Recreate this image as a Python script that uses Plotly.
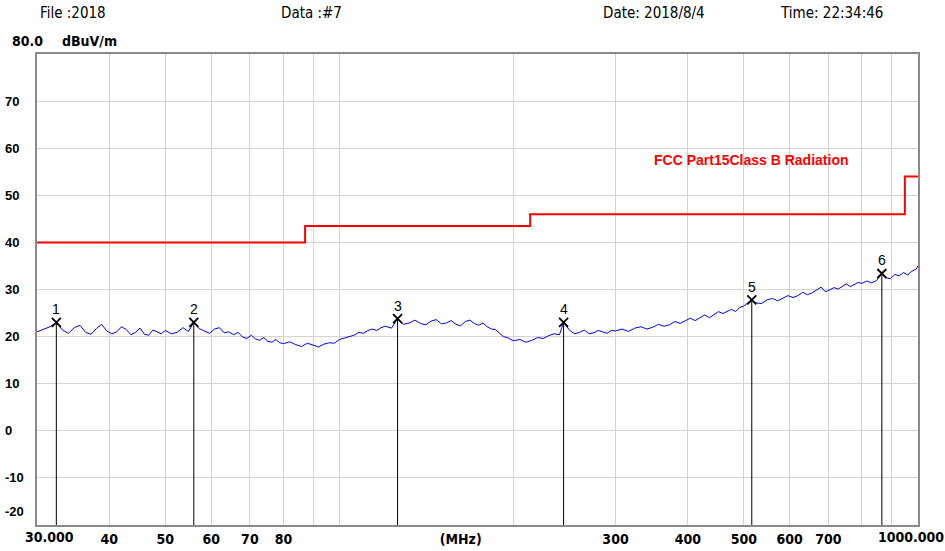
import math
import plotly.graph_objects as go

# ---------------- data ----------------
freq_mhz = [
    30.0, 30.8, 31.6, 32.4, 33.2, 34.0, 34.8, 35.6, 36.4, 37.2, 38.0, 38.8, 39.6, 40.4, 41.2, 42.0, 42.8, 43.6, 44.4, 45.2, 46.0, 46.8, 47.6, 48.4, 49.2,
    50.0, 51.2, 52.4, 53.6, 54.8, 56.0, 57.2, 58.4, 59.6, 60.8, 62.0, 63.2, 64.4, 65.6, 66.8, 68.0, 69.2, 70.4, 71.6, 72.8, 74.0, 75.2, 76.4, 77.6, 78.8,
    80, 82, 84, 86, 88, 90, 92, 94, 96, 98, 100, 102, 104, 106, 108, 110, 112, 114, 116, 118,
    120, 123, 126, 129, 132, 135, 138, 141, 144, 147, 150, 153, 156, 159, 162, 165, 168, 171, 174, 177, 180, 183, 186, 189, 192, 195, 198,
    200, 205, 210, 215, 220, 225, 230, 235, 240, 244, 250, 255, 260, 265, 270, 275, 280, 285, 290, 295,
    300, 308, 316, 324, 332, 340, 348, 356, 364, 372, 380, 388, 396, 404, 412, 420, 428, 436, 444, 452, 460, 468, 476, 484, 492,
    500, 516, 524, 536, 548, 560, 572, 584, 596, 608, 620, 632, 644, 656, 668, 680, 692, 704, 716, 728, 740, 752, 764, 776, 788,
    800, 816, 832, 848, 866, 880, 896, 912, 928, 944, 960, 976, 992, 1000,
]
level_dbuv = [
    21.0, 21.6, 22.1, 23.0, 21.4, 20.7, 21.9, 22.4, 20.9, 20.5, 21.7, 22.6, 21.2, 20.6, 21.0, 22.1, 21.5, 20.4, 20.9, 21.8, 20.5, 20.3, 21.4, 21.0, 20.6,
    21.3, 20.6, 20.9, 21.9, 21.1, 23.0, 21.7, 21.2, 20.7, 21.6, 21.9, 20.8, 21.0, 20.4, 20.9, 19.9, 19.6, 20.3, 19.5, 19.2, 19.8, 19.0, 18.8, 19.4, 18.7,
    18.5, 18.9, 18.3, 17.9, 18.6, 18.2, 17.8, 18.4, 18.7, 18.6, 19.4, 19.7, 20.0, 20.3, 20.9, 20.7, 21.3, 21.6, 21.3, 21.9,
    22.2, 21.8, 23.8, 22.6, 22.9, 23.5, 22.8, 22.5, 23.3, 23.6, 22.7, 22.9, 23.4, 22.6, 22.3, 23.2, 23.5, 22.8, 22.4, 22.9, 22.1, 21.6, 21.5, 20.7, 20.0, 19.8, 19.3,
    19.1, 19.4, 18.8, 19.2, 19.8, 19.6, 20.2, 20.6, 20.4, 23.0, 21.3, 20.6, 20.9, 21.4, 20.6, 20.8, 21.3, 21.0, 20.7, 21.3,
    21.2, 21.6, 21.1, 21.8, 22.1, 21.6, 22.0, 22.6, 22.2, 22.5, 23.2, 22.8, 23.3, 23.9, 23.4, 24.1, 24.6, 24.0, 24.6, 25.3, 24.9, 25.4, 25.8, 25.3, 26.2,
    26.5, 27.8, 27.2, 27.0, 27.8, 28.1, 27.6, 28.2, 28.7, 28.3, 28.7, 29.4, 28.9, 29.3, 29.9, 30.5, 29.5, 29.9, 30.4, 30.1, 30.7, 31.2, 30.6, 31.0, 31.5,
    31.3, 31.8, 31.4, 31.9, 33.4, 32.5, 32.3, 33.2, 32.9, 33.6, 33.1, 33.9, 34.3, 35.0,
]

limit_freq = [30, 87.2, 213.6, 949, 1000]
limit_level = [40, 43.5, 46, 54, 54]
limit_name = "FCC Part15Class B Radiation"

marker_freq = [32.4, 56.0, 126.0, 244.0, 516.0, 866.0]
marker_level = [23.0, 23.0, 23.8, 23.0, 27.8, 33.4]
marker_label = ["1", "2", "3", "4", "5", "6"]

y_tick_vals = [70, 60, 50, 40, 30, 20, 10, 0, -10, -20]
x_tick_vals = [40, 50, 60, 70, 80, 162, 300, 400, 500, 600, 700]
x_tick_text = ["40", "50", "60", "70", "80", "(MHz)", "300", "400", "500", "600", "700"]
x_grid_vals = [40, 50, 60, 70, 80, 90, 100, 200, 300, 400, 500, 600, 700, 800, 900]

header_texts = ["File :2018", "Data :#7", "Date: 2018/8/4", "Time: 22:34:46"]
header_x = [38, 279, 601, 778]

Y_MIN, Y_MAX = -20, 80
F_MIN, F_MAX = 30, 1000

NARROW = "Liberation Sans Narrow, Arial Narrow, DejaVu Sans Condensed, sans-serif"
ARIAL = "Liberation Sans, Arial, sans-serif"


def nfont(size, bold=False):
    d = dict(family=NARROW, size=size, color="#000000")
    if bold:
        d["weight"] = "bold"
    return d


fig = go.Figure()

fig.add_trace(go.Scatter(x=freq_mhz, y=level_dbuv, mode="lines",
                         line=dict(color="#0000ff", width=1), hoverinfo="skip"))

fig.add_trace(go.Scatter(x=limit_freq, y=limit_level, mode="lines",
                         line=dict(color="#ff0000", width=2, shape="hv"), hoverinfo="skip"))

vx, vy = [], []
for f, v in zip(marker_freq, marker_level):
    vx += [f, f, None]
    vy += [Y_MIN, v, None]
fig.add_trace(go.Scatter(x=vx, y=vy, mode="lines",
                         line=dict(color="#000000", width=1), hoverinfo="skip"))

fig.add_trace(go.Scatter(x=marker_freq, y=marker_level, mode="markers",
                         marker=dict(symbol="x-thin", size=9, line=dict(color="#000000", width=1.8)),
                         hoverinfo="skip"))

annotations = []
for f, v, t in zip(marker_freq, marker_level, marker_label):
    annotations.append(dict(x=math.log10(f), y=v, xref="x", yref="y", text=t, showarrow=False,
                            yshift=13, font=dict(family=ARIAL, size=14, color="#000000")))

annotations.append(dict(x=math.log10(347), y=57.5, xref="x", yref="y", xanchor="left", text=limit_name,
                        showarrow=False,
                        font=dict(family=ARIAL, size=14, color="#ff0000", weight="bold")))

for v in y_tick_vals:
    annotations.append(dict(x=0, y=v, xref="paper", yref="y", xanchor="left", text=str(v),
                            showarrow=False, xshift=-34, yshift=(14 if v == Y_MIN else 0),
                            font=dict(family=ARIAL, size=13, color="#000000", weight="bold")))
annotations.append(dict(x=0, y=1, xref="paper", yref="paper", xanchor="left", yanchor="middle",
                        text="80.0", showarrow=False, xshift=-27, yshift=13, font=nfont(14, True)))
annotations.append(dict(x=0, y=1, xref="paper", yref="paper", xanchor="left", yanchor="middle",
                        text="dBuV/m", showarrow=False, xshift=23, yshift=13, font=nfont(14, True)))

annotations.append(dict(x=math.log10(F_MIN), y=0, xref="x", yref="paper", yanchor="top",
                        text="30.000", showarrow=False, xshift=12, yshift=-2, font=nfont(14, True)))
annotations.append(dict(x=math.log10(F_MAX), y=0, xref="x", yref="paper", yanchor="top",
                        text="1000.000", showarrow=False, xshift=-7, yshift=-2, font=nfont(14, True)))

for t, px in zip(header_texts, header_x):
    annotations.append(dict(x=0, y=1, xref="paper", yref="paper", xanchor="left", yanchor="middle",
                            text=t, showarrow=False, xshift=px - 37, yshift=41, font=nfont(15)))

fig.update_layout(
    width=945, height=551,
    margin=dict(l=37, r=27, t=54, b=26, autoexpand=False),
    paper_bgcolor="#ffffff", plot_bgcolor="#ffffff",
    showlegend=False,
    annotations=annotations,
    xaxis=dict(type="log", range=[math.log10(F_MIN), math.log10(F_MAX)],
               tickmode="array", tickvals=x_tick_vals, ticktext=x_tick_text,
               showgrid=False, ticks="", zeroline=False, ticklabelstandoff=0,
               automargin=False,
               tickfont=nfont(14, True),
               showline=True, mirror=True, linecolor="#8a8a8a", linewidth=2,
               minor=dict(tickmode="array", tickvals=x_grid_vals, showgrid=True,
                          gridcolor="#d3d3d3", gridwidth=1, ticks="")),
    yaxis=dict(range=[Y_MIN, Y_MAX], tickmode="linear", dtick=10, tick0=0,
               showticklabels=False, showgrid=True, gridcolor="#d3d3d3", gridwidth=1,
               zeroline=False, ticks="", automargin=False,
               showline=True, mirror=True, linecolor="#8a8a8a", linewidth=2),
)

fig.write_html("out.html", config={"displayModeBar": False},
               post_script="document.body.style.margin='0';document.body.style.overflow='hidden';")
